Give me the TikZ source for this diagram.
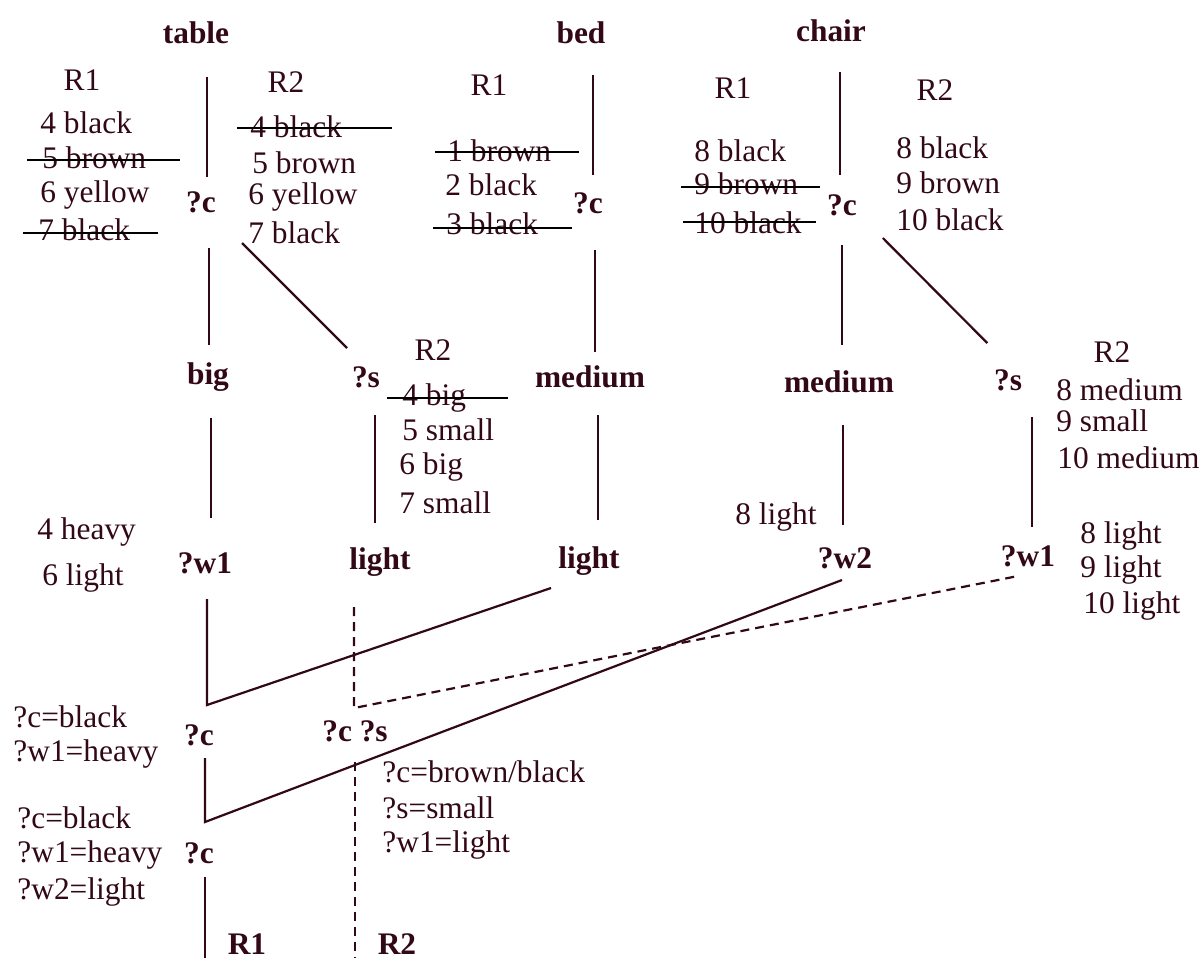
\documentclass[tikz,border=0pt]{standalone}
\usepackage{fontspec}
\setmainfont{Liberation Serif}
\usetikzlibrary{calc}
\definecolor{ink}{RGB}{50,8,22}

\begin{document}
\begin{tikzpicture}[
  x=0.5pt,y=-0.5pt,
  font=\fontsize{15.7}{18}\selectfont,
  var/.style={font=\fontsize{15.7}{18}\selectfont\bfseries,inner sep=0pt,text=ink},
  val/.style={anchor=west,inner sep=0pt,text=ink},
  rel/.style={inner sep=0pt,text=ink},
  link/.style={draw=ink,line width=1.1pt},
  altlink/.style={link,dash pattern=on 4.5pt off 3pt},
  strikeline/.style={draw=black,line width=1pt}
]
\useasboundingbox (0,0) rectangle (1202,960);
% pattern nodes
\node[var] (table) at (196,33) {table};
\node[var] (bed) at (581,33) {bed};
\node[var] (chair) at (831,31) {chair};
\node[var] (tc) at (201,202) {?c};
\node[var] (bc) at (588,203) {?c};
\node[var] (cc) at (842,205) {?c};
\node[var] (tbig) at (208,377) {big};
\node[var] (ts) at (366,377) {?s};
\node[var] (bmed) at (590,377) {medium};
\node[var] (cmed) at (839,382) {medium};
\node[var] (cs) at (1008,380) {?s};
\node[var] (tw) at (205,563) {?w1};
\node[var] (tl) at (380,562) {light};
\node[var] (bl) at (589,561) {light};
\node[var] (cw2) at (845,558) {?w2};
\node[var] (cw1) at (1028,556) {?w1};
\node[var] (ja) at (199,735) {?c};
\node[var] (jb) at (355,731) {?c ?s};
\node[var] (jc) at (199,853) {?c};
\node[var] (outa) at (247,944) {R1};
\node[var] (outb) at (397,944) {R2};
% rule labels
\node[rel] (tr1) at (82,80) {R1};
\node[rel] (tr2) at (286,82) {R2};
\node[rel] (br1) at (489,85) {R1};
\node[rel] (cr1) at (733,88) {R1};
\node[rel] (cr2) at (935,90) {R2};
\node[rel] (sr2) at (433,350) {R2};
\node[rel] (csr2) at (1112,352) {R2};
% working memory
\node[val] (ta4) at (40,123) {4 black};
\node[val] (ta5) at (42,158) {5 brown};
\node[val] (ta6) at (40,195) {6 yellow};
\node[val] (ta7) at (38,230) {7 black};
\node[val] (tb4) at (250,127) {4 black};
\node[val] (tb5) at (252,163) {5 brown};
\node[val] (tb6) at (248,197) {6 yellow};
\node[val] (tb7) at (248,233) {7 black};
\node[val] (ba1) at (447,151) {1 brown};
\node[val] (ba2) at (445,185) {2 black};
\node[val] (ba3) at (446,224) {3 black};
\node[val] (ca8) at (694,151) {8 black};
\node[val] (ca9) at (694,184) {9 brown};
\node[val] (ca10) at (694,223) {10 black};
\node[val] (cb8) at (896,148) {8 black};
\node[val] (cb9) at (896,183) {9 brown};
\node[val] (cb10) at (896,220) {10 black};
\node[val] (sa4) at (402,398) {4 big};
\node[val] (sa5) at (402,430) {5 small};
\node[val] (sa6) at (399,467) {6 big};
\node[val] (sa7) at (399,503) {7 small};
\node[val] (sb8) at (1056,390) {8 medium};
\node[val] (sb9) at (1056,421) {9 small};
\node[val] (sb10) at (1057,458) {10 medium};
\node[val] (wa4) at (37,532) {4 heavy};
\node[val] (wa6) at (42,578) {6 light};
\node[val] (wb8) at (735,517) {8 light};
\node[val] (wc8) at (1080,536) {8 light};
\node[val] (wc9) at (1080,570) {9 light};
\node[val] (wc10) at (1083,606) {10 light};
\node[val] (ra1) at (13,717) {?c=black};
\node[val] (ra2) at (13,754) {?w1=heavy};
\node[val] (rb1) at (17,818) {?c=black};
\node[val] (rb2) at (17,855) {?w1=heavy};
\node[val] (rb3) at (17,892) {?w2=light};
\node[val] (rc1) at (382,772) {?c=brown/black};
\node[val] (rc2) at (382,808) {?s=small};
\node[val] (rc3) at (382,845) {?w1=light};
% struck entries
\draw[strikeline] ([xshift=-7.5pt,yshift=-1pt]ta5.west) -- ++(76.5pt,0);
\draw[strikeline] ([xshift=-7.5pt,yshift=-1.5pt]ta7.west) -- ++(67.5pt,0);
\draw[strikeline] ([xshift=-6.5pt,yshift=-0.5pt]tb4.west) -- ++(77.5pt,0);
\draw[strikeline] ([xshift=-6pt,yshift=-0.5pt]ba1.west) -- ++(72pt,0);
\draw[strikeline] ([xshift=-6.5pt,yshift=-2pt]ba3.west) -- ++(69.5pt,0);
\draw[strikeline] ([xshift=-6.5pt,yshift=-1.5pt]ca9.west) -- ++(69.5pt,0);
\draw[strikeline] ([xshift=-5.5pt,yshift=0.5pt]ca10.west) -- ++(66.5pt,0);
\draw[strikeline] ([xshift=-7.5pt]sa4.west) -- ++(60.5pt,0);
% alpha network
\draw[link,shorten <=22pt,shorten >=12.5pt] ($(tc |- table)+(3pt,0)$) -- ($(tc)+(3pt,0)$);
\draw[link,shorten <=21pt,shorten >=14pt] ($(bc |- bed)+(2.5pt,0)$) -- ($(bc)+(2.5pt,0)$);
\draw[link,shorten <=20.5pt,shorten >=15pt] ($(cc |- chair)+(-1pt,0)$) -- ($(cc)+(-1pt,0)$);
\draw[link,shorten <=23pt,shorten >=16pt] ($(tbig |- tc)+(0.5pt,0)$) -- ($(tbig)+(0.5pt,0)$);
\draw[link,shorten <=29pt,shorten >=20.5pt] (tc.center) -- ([xshift=5pt]ts.center);
\draw[link,shorten <=23.5pt,shorten >=12.5pt] ($(bmed |- bc)+(2.5pt,0)$) -- ($(bmed)+(2.5pt,0)$);
\draw[link,shorten <=20pt,shorten >=18.5pt] ($(cmed |- cc)+(1.5pt,0)$) -- ($(cmed)+(1.5pt,0)$);
\draw[link,shorten <=23.3pt,shorten >=26pt] ([xshift=4pt]cc.center) -- ([xshift=8pt]cs.center);
\draw[link,shorten <=20.5pt,shorten >=22.5pt] ($(tw |- tbig)+(3pt,0)$) -- ($(tw)+(3pt,0)$);
\draw[link,shorten <=19pt,shorten >=19.5pt] ($(tl |- ts)+(-2.5pt,0)$) -- ($(tl)+(-2.5pt,0)$);
\draw[link,shorten <=19pt,shorten >=20.5pt] ($(bl |- bmed)+(4.5pt,0)$) -- ($(bl)+(4.5pt,0)$);
\draw[link,shorten <=21.5pt,shorten >=16.5pt] ($(cw2 |- cmed)+(-1pt,0)$) -- ($(cw2)+(-1pt,0)$);
\draw[link,shorten <=18.5pt,shorten >=14.5pt] ($(cw1 |- cs)+(2pt,0)$) -- ($(cw1)+(2pt,0)$);
% beta network
\coordinate (k1) at (207,705);
\coordinate (k2) at (354,708);
\coordinate (k3) at (205,822);
\coordinate (e1) at (205,958);
\coordinate (e2) at (355,958);
\draw[link,shorten <=18pt] (k1 |- tw) -- (k1) -- ([shift={(-19pt,-13.5pt)}]bl.center);
\draw[altlink,shorten <=22.5pt] (k2 |- tl) -- (k2) -- ([shift={(-5pt,-10pt)}]cw1.center);
\draw[link,shorten <=11.5pt] (k3 |- ja) -- (k3) -- ([shift={(-1.5pt,-11pt)}]cw2.center);
\draw[link,shorten <=12pt] (e1 |- jc) -- (e1);
\draw[altlink,shorten <=15.5pt] (e2 |- jb) -- (e2);
\end{tikzpicture}
\end{document}
